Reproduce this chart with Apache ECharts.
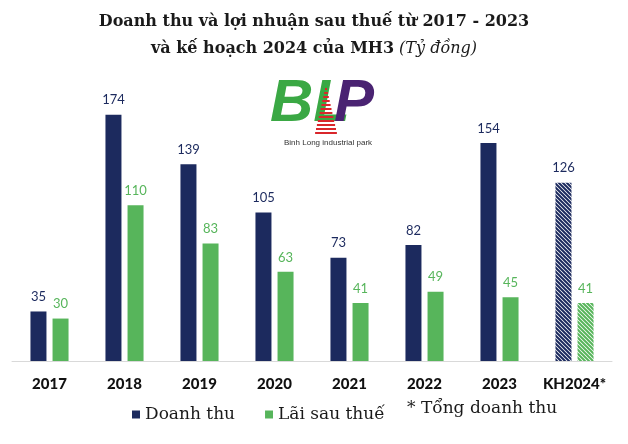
<!DOCTYPE html>
<html>
<head>
<meta charset="utf-8">
<script src="https://cdn.jsdelivr.net/npm/echarts@6/dist/echarts.min.js"></script>
<style>
  html, body { margin: 0; padding: 0; background: #fff; }
  #chart { width: 628px; height: 444px; }
</style>
</head>
<body>
<div id="chart"></div>
<script>
const years = ['2017', '2018', '2019', '2020', '2021', '2022', '2023', 'KH2024*'];
const revenue = [35, 174, 139, 105, 73, 82, 154, 126];
const profit = [30, 110, 83, 63, 41, 49, 45, 41];

const navy = '#1c2a5e';
const green = '#57b55b';

// diagonal hatch pattern for the plan column
function hatch(color) {
  const c = document.createElement('canvas');
  c.width = 4; c.height = 4;
  const ctx = c.getContext('2d');
  ctx.fillStyle = '#fff';
  ctx.fillRect(0, 0, 4, 4);
  ctx.strokeStyle = color;
  ctx.lineWidth = 2;
  ctx.beginPath();
  ctx.moveTo(-1, -1); ctx.lineTo(5, 5);
  ctx.moveTo(-1, 3); ctx.lineTo(1, 5);
  ctx.moveTo(3, -1); ctx.lineTo(5, 1);
  ctx.stroke();
  return { image: c, repeat: 'repeat' };
}

function toData(values, color) {
  return values.map((v, i) => i === values.length - 1
    ? { value: v, itemStyle: { color: hatch(color) } }
    : v);
}

const redLines = [];
for (let i = 0; i < 12; i++) {
  const y = 88 + i * 4;
  const half = 1 + i * 0.9;
  redLines.push({
    type: 'rect',
    shape: { x: 326 - half, y: y, width: half * 2, height: 2 },
    style: { fill: '#d9262b' }
  });
}

const chart = echarts.init(document.getElementById('chart'));
chart.setOption({
  animation: false,
  title: {
    left: 'center',
    top: 3,
    text: '{b|Doanh thu và lợi nhuận sau thuế từ 2017 - 2023}\n{b|và kế hoạch 2024 của MH3} {i|(Tỷ đồng)}',
    textStyle: {
      rich: {
        b: { fontFamily: 'DejaVu Serif', fontWeight: 'bold', fontSize: 16, color: '#1a1a1a', lineHeight: 27 },
        i: { fontFamily: 'DejaVu Serif', fontStyle: 'italic', fontWeight: 'normal', fontSize: 16, color: '#1a1a1a', lineHeight: 27 }
      }
    }
  },
  legend: {
    left: 127,
    top: 401,
    icon: 'rect',
    itemWidth: 8,
    itemHeight: 8,
    itemGap: 30,
    textStyle: { fontFamily: 'DejaVu Serif', fontSize: 17, color: '#1a1a1a' },
    data: ['Doanh thu', 'Lãi sau thuế']
  },
  graphic: [
    {
      type: 'text', left: 407, top: 400,
      style: { text: '* Tổng doanh thu', font: '17px "DejaVu Serif"', fill: '#1a1a1a' }
    },
    {
      type: 'text', left: 270, top: 74,
      style: { text: 'BL', font: 'italic bold 60px "Liberation Sans"', fill: '#3aa844' }
    },
    {
      type: 'text', left: 334, top: 74,
      style: { text: 'P', font: 'italic bold 60px "Liberation Sans"', fill: '#4a2372' }
    },
    { type: 'group', children: redLines },
    {
      type: 'text', left: 284, top: 139,
      style: { text: 'Binh Long industrial park', font: '8px "Liberation Sans"', fill: '#333' }
    }
  ],
  grid: { left: 12, right: 16, top: 78, bottom: 83, containLabel: false },
  xAxis: {
    type: 'category',
    data: years,
    axisLine: { lineStyle: { color: '#d9d9d9' } },
    axisTick: { show: false },
    axisLabel: { interval: 0, fontFamily: 'Lato', fontWeight: 900, fontSize: 15, color: '#111', margin: 16 }
  },
  yAxis: {
    type: 'value',
    min: 0,
    max: 200,
    show: false,
    splitLine: { show: false }
  },
  series: [
    {
      name: 'Doanh thu',
      type: 'bar',
      barWidth: 16,
      barGap: '38%',
      itemStyle: { color: navy },
      label: { show: true, position: 'top', distance: 8, fontFamily: 'Lato', fontSize: 13, color: navy },
      data: toData(revenue, navy)
    },
    {
      name: 'Lãi sau thuế',
      type: 'bar',
      barWidth: 16,
      itemStyle: { color: green },
      label: { show: true, position: 'top', distance: 8, fontFamily: 'Lato', fontSize: 13, color: green },
      data: toData(profit, green)
    }
  ]
});
</script>
</body>
</html>
